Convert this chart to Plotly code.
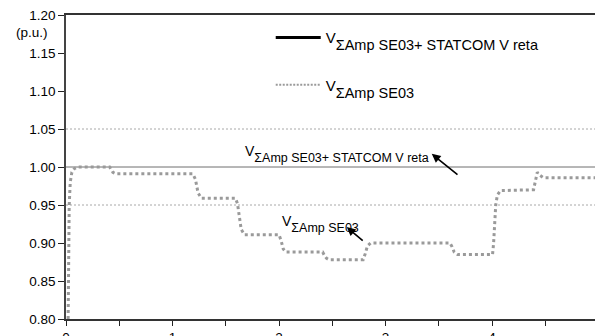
import plotly.graph_objects as go

# ---- data ----
t_se03 = [0.020, 0.025, 0.030, 0.040, 0.055, 0.080, 0.110, 0.410, 0.440, 0.470,
          1.190, 1.215, 1.240, 1.270, 1.590, 1.610, 1.625, 1.645, 1.675,
          2.000, 2.020, 2.040, 2.065, 2.410, 2.425, 2.445, 2.470,
          2.790, 2.810, 2.830, 2.860, 3.605, 3.625, 3.645, 3.675,
          4.005, 4.015, 4.025, 4.035, 4.050, 4.080, 4.390, 4.405, 4.425, 4.450, 4.480, 4.970]
v_se03 = [0.800, 0.900, 0.950, 0.980, 0.993, 0.998, 1.000, 1.000, 0.993, 0.991,
          0.991, 0.984, 0.966, 0.959, 0.959, 0.952, 0.935, 0.918, 0.911,
          0.911, 0.903, 0.892, 0.888, 0.888, 0.884, 0.880, 0.878,
          0.878, 0.886, 0.896, 0.900, 0.900, 0.895, 0.888, 0.885,
          0.885, 0.900, 0.925, 0.950, 0.963, 0.969, 0.970, 0.982, 0.993, 0.989, 0.986, 0.986]

t_statcom = [0.0, 4.97]
v_statcom = [1.00, 1.00]

ref_levels = [1.05, 0.95]

x_tickvals = [0, 0.5, 1, 1.5, 2, 2.5, 3, 3.5, 4, 4.5]
x_ticktext = ["0", "", "1", "", "2", "", "3", "", "4", ""]
y_tickvals = [0.80, 0.85, 0.90, 0.95, 1.00, 1.05, 1.10, 1.15, 1.20]
y_ticktext = ["0.80", "0.85", "0.90", "0.95", "1.00", "1.05", "1.10", "1.15", "1.20"]

name_statcom = 'V<span style="font-size:14.5px;baseline-shift:-7px">ΣAmp SE03+ STATCOM V reta</span>'
name_se03 = 'V<span style="font-size:14.5px;baseline-shift:-7px">ΣAmp SE03</span>'
ann_statcom = 'V<span style="font-size:12.5px;baseline-shift:-6px">ΣAmp SE03+ STATCOM V reta</span>'
ann_se03 = 'V<span style="font-size:12.5px;baseline-shift:-6px">ΣAmp SE03</span>'

FONT = "Liberation Sans, Arial, sans-serif"

fig = go.Figure()

# STATCOM series (flat line at 1.00)
fig.add_trace(go.Scatter(x=t_statcom, y=v_statcom, mode="lines",
                         line=dict(color="#6e6e6e", width=1), showlegend=False,
                         hoverinfo="skip"))
# SE03 series
fig.add_trace(go.Scatter(x=t_se03, y=v_se03, mode="lines",
                         line=dict(color="#9a9a9a", width=3, dash="3px,3px"),
                         showlegend=False))
# legend entries
fig.add_trace(go.Scatter(x=[None], y=[None], mode="lines", name=name_statcom,
                         line=dict(color="black", width=3), legend="legend"))
fig.add_trace(go.Scatter(x=[None], y=[None], mode="lines", name=name_se03,
                         line=dict(color="#9a9a9a", width=2, dash="2px,1.5px"),
                         legend="legend2"))

for lv in ref_levels:
    fig.add_shape(type="line", xref="paper", x0=0, x1=1, yref="y", y0=lv, y1=lv,
                  line=dict(color="#a8a8a8", width=1, dash="2px,2px"), layer="below")

# text annotations
fig.add_annotation(x=1.665, y=1.034, xref="x", yref="y", text=ann_statcom,
                   showarrow=False, xanchor="left", yanchor="top",
                   font=dict(family=FONT, size=14, color="black"))
fig.add_annotation(x=2.005, y=0.9425, xref="x", yref="y", text=ann_se03,
                   showarrow=False, xanchor="left", yanchor="top",
                   font=dict(family=FONT, size=14, color="black"))
# arrows
fig.add_annotation(x=3.434, y=1.0173, ax=3.69, ay=0.9884, xref="x", yref="y",
                   axref="x", ayref="y", text="", showarrow=True,
                   arrowhead=2, arrowsize=1.1, arrowwidth=1.6, arrowcolor="black")
fig.add_annotation(x=2.636, y=0.921, ax=2.80, ay=0.9013, xref="x", yref="y",
                   axref="x", ayref="y", text="", showarrow=True,
                   arrowhead=2, arrowsize=1.1, arrowwidth=1.6, arrowcolor="black")

# (p.u.) label
fig.add_annotation(x=-0.03, y=1.177, xref="paper", yref="y", text="(p.u.)",
                   showarrow=False, xanchor="right", yanchor="middle",
                   font=dict(family=FONT, size=13.5, color="black"))

fig.update_layout(
    width=595, height=336,
    margin=dict(l=66, r=0, t=15, b=16.5, autoexpand=False),
    paper_bgcolor="white", plot_bgcolor="white",
    font=dict(family=FONT, size=13.5, color="black"),
    legend=dict(x=0.387, y=0.925, xanchor="left", yanchor="middle",
                bgcolor="rgba(0,0,0,0)", itemwidth=45,
                font=dict(family=FONT, size=15, color="black")),
    legend2=dict(x=0.387, y=0.77, xanchor="left", yanchor="middle",
                 bgcolor="rgba(0,0,0,0)", itemwidth=45,
                 font=dict(family=FONT, size=15, color="black")),
    xaxis=dict(range=[0, 4.967], tickvals=x_tickvals, ticktext=x_ticktext,
               ticks="outside", ticklen=5, tickcolor="#222", tickwidth=1,
               showline=True, linecolor="#333", linewidth=1.5, mirror=True,
               showgrid=False, zeroline=False,
               tickfont=dict(family=FONT, size=13.5, color="black")),
    yaxis=dict(range=[0.8, 1.2], tickvals=y_tickvals, ticktext=y_ticktext,
               ticks="outside", ticklen=6, tickcolor="#222", tickwidth=1,
               showline=True, linecolor="#444", linewidth=1.5,
               showgrid=False, zeroline=False,
               tickfont=dict(family=FONT, size=13.5, color="black")),
)

fig.write_html("out.html", config={"displayModeBar": False},
               post_script="document.body.style.margin='0';document.body.style.overflow='hidden';")
